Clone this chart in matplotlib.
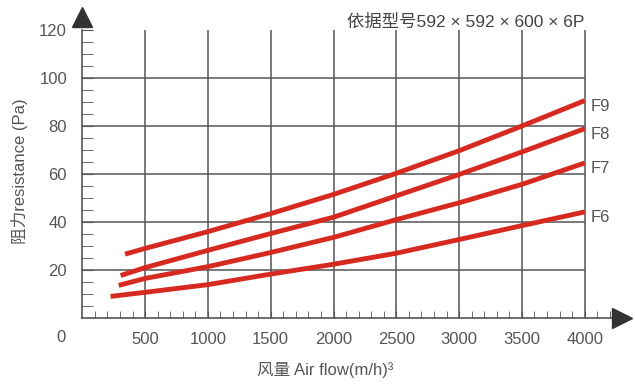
import matplotlib
matplotlib.use('Agg')
import matplotlib.pyplot as plt

plt.rcParams['font.family'] = ['Liberation Sans', 'Noto Sans CJK SC', 'DejaVu Sans']

# 风量 (m3/h) 与阻力 (Pa)
flow = [500, 1000, 1500, 2000, 2500, 3000, 3500, 4000]
f9_start, f9 = (340, 26.6), [29.0, 36.0, 43.5, 51.5, 60.3, 69.7, 80.0, 90.6]
f8_start, f8 = (305, 17.7), [21.0, 28.2, 35.2, 42.0, 50.9, 59.8, 69.2, 78.9]
f7_start, f7 = (290, 13.6), [16.5, 21.4, 27.3, 33.6, 41.0, 48.0, 55.7, 64.6]
f6_start, f6 = (225, 9.0), [10.7, 13.9, 18.3, 22.4, 27.0, 32.7, 38.5, 44.2]
names = ['F9', 'F8', 'F7', 'F6']

x_ticks = [500, 1000, 1500, 2000, 2500, 3000, 3500, 4000]
y_ticks = [20, 40, 60, 80, 100, 120]

grey = '#555555'
red = '#d62a20'

fig = plt.figure(figsize=(6.35, 3.85), dpi=100)
ax = fig.add_axes([0.1296, 0.174, 0.8357, 0.748])
ax.set_xlim(0, 4225)
ax.set_ylim(0, 120)

# grid
ax.vlines(x_ticks, 0, 120, color=grey, lw=1.1, zorder=1)
ax.hlines(y_ticks[:-1], 0, 4000, color=grey, lw=1.1, zorder=1)

for nm, (s, ys) in zip(names, [(f9_start, f9), (f8_start, f8), (f7_start, f7), (f6_start, f6)]):
    xs = [s[0]] + flow
    yy = [s[1]] + ys
    ax.plot(xs, yy, color=red, lw=3.5, solid_capstyle='butt', solid_joinstyle='round', zorder=3)
    ax.text(4045, yy[-1] - 2.5, nm, color=grey, fontsize=12, ha='left', va='center')

for sp in ['top', 'right']:
    ax.spines[sp].set_visible(False)
for sp in ['left', 'bottom']:
    ax.spines[sp].set_color(grey)
    ax.spines[sp].set_linewidth(1.2)

ax.set_xticks(x_ticks)
ax.set_xticks(range(100, 4300, 100), minor=True)
ax.set_yticks(y_ticks)
ax.set_yticks(range(5, 121, 5), minor=True)
ax.tick_params(axis='both', which='both', direction='in', colors=grey, labelsize=12)
ax.tick_params(axis='x', which='major', length=5, pad=10)
ax.tick_params(axis='x', which='minor', length=5)
ax.tick_params(axis='y', which='major', length=8, pad=11)
ax.tick_params(axis='y', which='minor', length=8)
ax.tick_params(labelcolor=grey)

# arrows on the axes
ax.plot([4300], [0], marker='>', markersize=14, color='#333333', clip_on=False, zorder=5)
ax.plot([0], [125.5], marker='^', markersize=14, color='#333333', clip_on=False, zorder=5)

fig.text(61 / 635, 1 - 338 / 385, '0', color=grey, fontsize=12, ha='center', va='center')
ax.text(4000, 123.3, '依据型号592 × 592 × 600 × 6P', color='#444444', fontsize=12.5,
        ha='right', va='center', clip_on=False)
fig.text(325 / 635, 1 - 370 / 385, '风量 Air flow(m/h)³', color=grey, fontsize=12,
         ha='center', va='center')
fig.text(20 / 635, 1 - 171 / 385, '阻力resistance (Pa)', color=grey, fontsize=12,
         ha='center', va='center', rotation=90)

fig.savefig('out.png', dpi=100)
